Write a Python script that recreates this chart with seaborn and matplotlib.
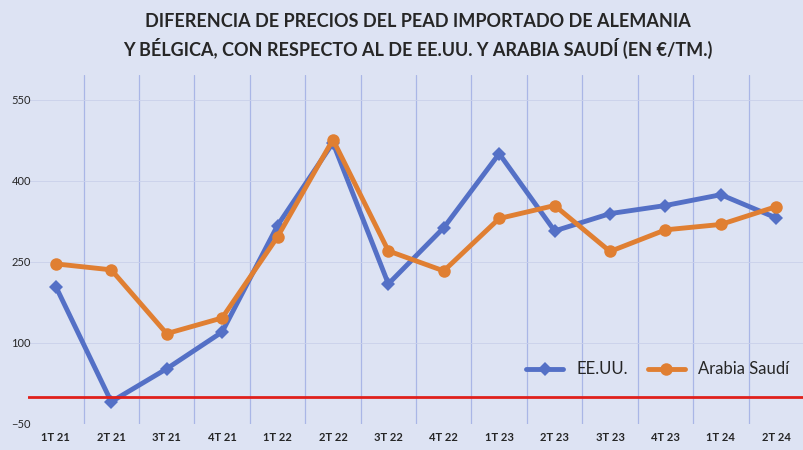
import matplotlib
matplotlib.use("Agg")
import matplotlib.pyplot as plt
import seaborn as sns
import pandas as pd

# datos
trimestres = ["1T 21", "2T 21", "3T 21", "4T 21", "1T 22", "2T 22", "3T 22",
              "4T 22", "1T 23", "2T 23", "3T 23", "4T 23", "1T 24", "2T 24"]
eeuu = [204, -9, 52, 120, 317, 470, 209, 313, 450, 307, 339, 354, 374, 331]
arabia = [246, 235, 117, 146, 296, 476, 270, 233, 330, 354, 269, 309, 319, 352]

df = pd.DataFrame({"pos": range(len(trimestres)), "EE.UU.": eeuu, "Arabia Saudí": arabia})

sns.set_style("white")
plt.rcParams["font.family"] = ["Lato", "DejaVu Sans"]
bg = "#dde3f3"

fig = plt.figure(figsize=(8.04, 4.5), dpi=100, facecolor=bg)
ax = fig.add_axes([0.035, 0.058, 0.965, 0.776], facecolor=bg)

sns.lineplot(data=df, x="pos", y="EE.UU.", ax=ax, color="#5470c6", lw=3.5,
             marker="D", markersize=7, markeredgewidth=0, label="EE.UU.")
sns.lineplot(data=df, x="pos", y="Arabia Saudí", ax=ax, color="#e07f32", lw=3.5,
             marker="o", markersize=9, markeredgewidth=0, label="Arabia Saudí")

ax.axhline(0, color="#e0201b", lw=2)
for i in range(len(trimestres) - 1):
    ax.axvline(i + 0.5, color="#a9b6e6", lw=0.9, zorder=0)

ax.set_xlim(-0.5, len(trimestres) - 0.5)
ax.set_ylim(-50, 596)
ax.set_yticks([-50, 100, 250, 400, 550])
ax.set_xticks(range(len(trimestres)))
ax.set_xticklabels(trimestres, fontsize=8, fontweight="bold")
ax.tick_params(axis="y", labelsize=8, pad=-2, length=0)
ax.tick_params(axis="x", length=0, pad=6)
ax.grid(axis="y", color="#c9d0ea", lw=0.6)
ax.set_xlabel("")
ax.set_ylabel("")
for s in ax.spines.values():
    s.set_visible(False)

ax.legend(loc="lower right", bbox_to_anchor=(1.0, 0.09), frameon=False,
          fontsize=12, ncol=2, handlelength=2.2, columnspacing=1.2)

fig.text(0.52, 0.952, "DIFERENCIA DE PRECIOS DEL PEAD IMPORTADO DE ALEMANIA",
         ha="center", va="center", fontsize=13, fontweight="bold")
fig.text(0.52, 0.893, "Y BÉLGICA, CON RESPECTO AL DE EE.UU. Y ARABIA SAUDÍ (EN €/TM.)",
         ha="center", va="center", fontsize=13, fontweight="bold")

fig.savefig("out.png", dpi=100, facecolor=bg)
